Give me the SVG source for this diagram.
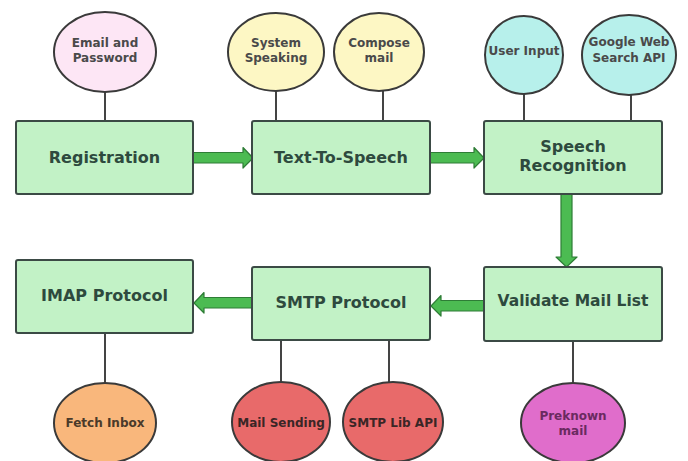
<svg xmlns="http://www.w3.org/2000/svg" width="688" height="461" viewBox="0 0 688 461">
<defs>
<style>
.box{fill:#c2f2c6;stroke:#3b4a45;stroke-width:2}
.bl{font-family:"DejaVu Sans",sans-serif;font-weight:bold;font-size:16px;fill:#2e4a3e;text-anchor:middle}
.el{stroke:#3a3a3a;stroke-width:2}
.et{font-family:"DejaVu Sans",sans-serif;font-weight:bold;font-size:12px;fill:#4a4a4a;text-anchor:middle}
.ln{stroke:#444;stroke-width:2;fill:none}
.ar{fill:#4cbb52;stroke:#2e7d36;stroke-width:1.2;stroke-linejoin:round}
</style>
</defs>
<rect width="688" height="461" fill="#ffffff"/>
<g id="connectors">
<line class="ln" x1="105" y1="92" x2="105" y2="121"/>
<line class="ln" x1="276" y1="91" x2="276" y2="121"/>
<line class="ln" x1="383" y1="91" x2="383" y2="121"/>
<line class="ln" x1="524" y1="94" x2="524" y2="121"/>
<line class="ln" x1="631" y1="95" x2="631" y2="121"/>
<line class="ln" x1="573" y1="341" x2="573" y2="383"/>
<line class="ln" x1="281" y1="340" x2="281" y2="382"/>
<line class="ln" x1="389" y1="340" x2="389" y2="382"/>
<line class="ln" x1="105" y1="333" x2="105" y2="383"/>
<path class="ar" d="M193,152.5 H243 V147.5 L253,158 L243,168 V163 H193 Z"/>
<path class="ar" d="M430,152.5 H474 V147.5 L484,158 L474,168 V163 H430 Z"/>
<path class="ar" d="M561,194 V257 H556 L566.5,267 L577,257 H572 V194 Z"/>
<path class="ar" d="M484,300.5 H441 V295.5 L431,306 L441,316 V311 H484 Z"/>
<path class="ar" d="M252,297.5 H204 V292.5 L194,303 L204,313 V308 H252 Z"/>
</g>
<g id="registration"><rect class="box" x="16" y="121" width="177" height="73" rx="2"/><text class="bl" x="104.5" y="163">Registration</text></g>
<g id="tts"><rect class="box" x="252" y="121" width="178" height="73" rx="2"/><text class="bl" x="341" y="163">Text-To-Speech</text></g>
<g id="speech-recognition"><rect class="box" x="484" y="121" width="178" height="73" rx="2"/><text class="bl" x="573" y="152">Speech</text><text class="bl" x="573" y="171">Recognition</text></g>
<g id="validate"><rect class="box" x="484" y="267" width="178" height="74" rx="2"/><text class="bl" x="573" y="306" style="font-size:15.5px">Validate Mail List</text></g>
<g id="smtp"><rect class="box" x="252" y="267" width="178" height="73" rx="2"/><text class="bl" x="341" y="308">SMTP Protocol</text></g>
<g id="imap"><rect class="box" x="16" y="260" width="177" height="73" rx="2"/><text class="bl" x="104.5" y="301">IMAP Protocol</text></g>
<g id="email-password"><ellipse class="el" cx="105" cy="52" rx="51" ry="40" fill="#fde6f5"/><text class="et" x="105" y="47">Email and</text><text class="et" x="105" y="62">Password</text></g>
<g id="system-speaking"><ellipse class="el" cx="276" cy="52" rx="48" ry="39" fill="#fdf7c4"/><text class="et" x="276" y="47">System</text><text class="et" x="276" y="62">Speaking</text></g>
<g id="compose-mail"><ellipse class="el" cx="379" cy="52" rx="45" ry="39" fill="#fdf7c4"/><text class="et" x="379" y="47">Compose</text><text class="et" x="379" y="62">mail</text></g>
<g id="user-input"><ellipse class="el" cx="524" cy="55" rx="39" ry="39" fill="#b7f0eb"/><text class="et" x="524" y="55">User Input</text></g>
<g id="google-api"><ellipse class="el" cx="629" cy="55" rx="47" ry="40" fill="#b7f0eb"/><text class="et" x="629" y="46">Google Web</text><text class="et" x="629" y="62">Search API</text></g>
<g id="fetch-inbox"><ellipse class="el" cx="105" cy="423" rx="51" ry="40" fill="#f9b77c"/><text class="et" x="105" y="427" style="fill:#4a3a2a">Fetch Inbox</text></g>
<g id="mail-sending"><ellipse class="el" cx="281" cy="422" rx="49" ry="40" fill="#e86a6a"/><text class="et" x="281" y="427" style="fill:#3a2626">Mail Sending</text></g>
<g id="smtp-lib"><ellipse class="el" cx="393" cy="422" rx="50" ry="40" fill="#e86a6a"/><text class="et" x="393" y="427" style="fill:#3a2626">SMTP Lib API</text></g>
<g id="preknown"><ellipse class="el" cx="573" cy="423" rx="52" ry="40" fill="#e06dcb"/><text class="et" x="573" y="420" style="fill:#6a2a60">Preknown</text><text class="et" x="573" y="435" style="fill:#6a2a60">mail</text></g>
</svg>
